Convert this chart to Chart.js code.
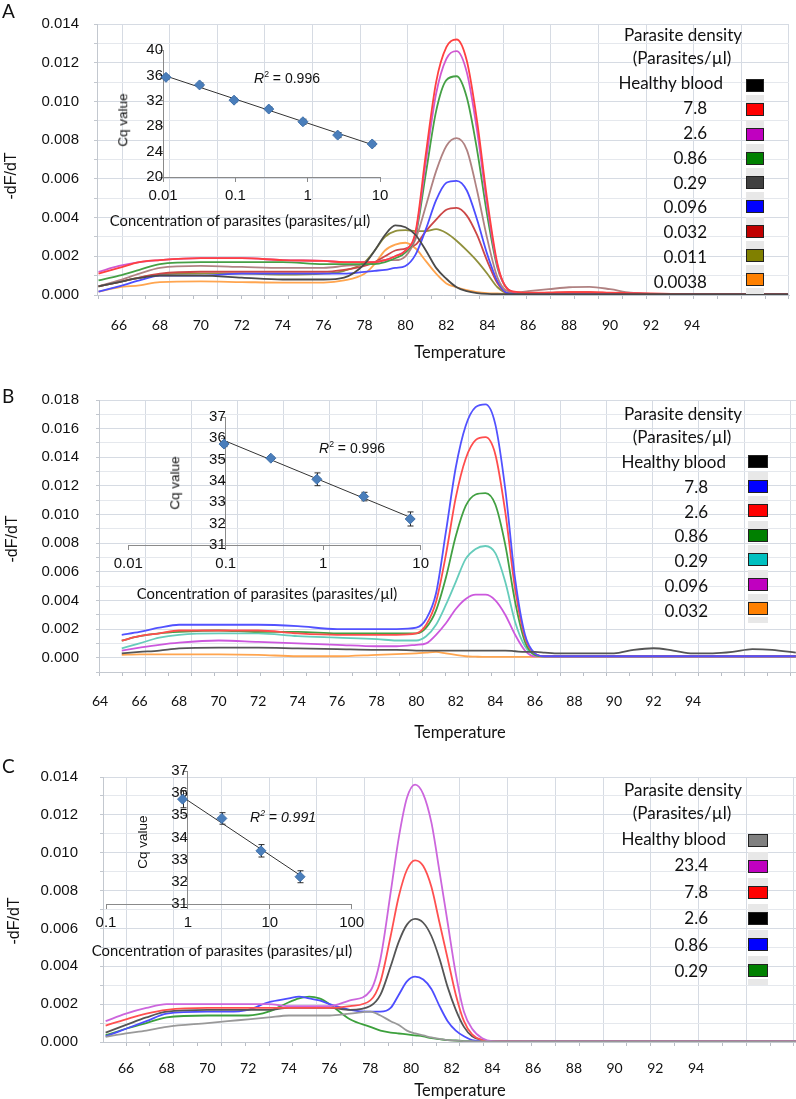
<!DOCTYPE html>
<html>
<head>
<meta charset="utf-8">
<title>Melt curves and standard curves</title>
<script src="https://cdn.jsdelivr.net/npm/chart.js"></script>
<style>
  body { margin: 0; background: #fff; }
  #fig { position: relative; width: 796px; height: 1099px; overflow: hidden; background: #fff; color: #111; }
  #fig canvas { position: absolute; }
  .t { position: absolute; white-space: nowrap; line-height: 1; }
  .t sup { font-size: 0.62em; line-height: 0; }
  .key { position: absolute; box-sizing: border-box; }
</style>
</head>
<body>
<div id="fig">
  <canvas id="meltA" width="796" height="366" style="left:0;top:0"></canvas>
  <canvas id="meltB" width="796" height="380" style="left:0;top:366px"></canvas>
  <canvas id="meltC" width="796" height="353" style="left:0;top:746px"></canvas>
  <canvas id="cqA" width="290" height="180" style="left:110px;top:30px"></canvas>
  <canvas id="cqB" width="340" height="180" style="left:95px;top:395px"></canvas>
  <canvas id="cqC" width="300" height="185" style="left:70px;top:750px"></canvas>
</div>
<script>
// ---------------- panel A : melt curves ----------------
const tempA = [65, 66, 67, 68, 70, 72, 74, 76, 77, 78,
  78.5, 79, 79.5, 80, 80.5, 81, 81.5, 82, 82.5, 83,
  83.5, 84, 84.5, 85, 85.5, 86, 87, 88, 89, 90,
  91, 92, 94, 96, 98.7];
const aHealthy = [0.00045, 0.00067, 0.00088, 0.0010, 0.0010, 0.0009, 0.0008, 0.0008, 0.0009, 0.0016,
  0.0023, 0.0031, 0.0036, 0.0035, 0.0031, 0.0023, 0.0014, 0.00084, 0.0004, 0.0002,
  0.0001, 0.00006, 0.00005, 0.00005, 0.00005, 0.00005, 0.00005, 0.00005, 0.00005, 0.00005,
  0.00005, 0.00005, 0.00005, 0.00005, 0.00005];
const a7_8 = [0.0011, 0.0014, 0.0017, 0.0018, 0.0019, 0.0019, 0.0018, 0.00176, 0.0017, 0.0017,
  0.0017, 0.0018, 0.0020, 0.0023, 0.0033, 0.0073, 0.0110, 0.0128, 0.0132, 0.0121,
  0.0090, 0.0049, 0.0016, 0.0003, 0.00015, 0.00012, 0.00012, 0.00015, 0.00015, 0.00012,
  0.0001, 0.00008, 0.00005, 0.00005, 0.00005];
const a2_6 = [0.0012, 0.0015, 0.0017, 0.0018, 0.0019, 0.0019, 0.0018, 0.00176, 0.0017, 0.0017,
  0.0017, 0.0018, 0.0020, 0.0023, 0.0032, 0.0069, 0.0104, 0.0122, 0.0126, 0.0115,
  0.0085, 0.0046, 0.0015, 0.0003, 0.00012, 0.0001, 0.0001, 0.0001, 0.0001, 0.0001,
  0.00008, 0.00006, 0.00005, 0.00005, 0.00005];
const a0_86 = [0.00075, 0.0010, 0.0013, 0.0016, 0.0017, 0.0017, 0.0017, 0.0016, 0.0016, 0.0016,
  0.0016, 0.0017, 0.0019, 0.0022, 0.0031, 0.0063, 0.0095, 0.0111, 0.0113, 0.0102,
  0.0075, 0.0041, 0.0014, 0.0003, 0.0001, 0.00008, 0.00008, 0.00008, 0.00008, 0.00008,
  0.00006, 0.00005, 0.00005, 0.00005, 0.00005];
const a0_29 = [0.00045, 0.00075, 0.0011, 0.0014, 0.0015, 0.00145, 0.0014, 0.0014, 0.0015, 0.0016,
  0.0017, 0.0018, 0.0018, 0.0020, 0.0029, 0.0046, 0.0064, 0.0077, 0.0081, 0.0075,
  0.0054, 0.0029, 0.0009, 0.0002, 0.00015, 0.0002, 0.0003, 0.0004, 0.00042, 0.0003,
  0.00012, 0.00006, 0.00005, 0.00005, 0.00005];
const a0_096 = [0.00017, 0.00045, 0.00075, 0.0010, 0.0010, 0.0011, 0.0011, 0.0011, 0.0011, 0.0012,
  0.00125, 0.0013, 0.0014, 0.0015, 0.0021, 0.0034, 0.0049, 0.0058, 0.0059, 0.0054,
  0.0039, 0.0021, 0.0007, 0.0001, 0.00008, 0.00005, 0.00005, 0.00005, 0.00005, 0.00005,
  0.00005, 0.00005, 0.00005, 0.00005, 0.00005];
const a0_032 = [0.00045, 0.00067, 0.0009, 0.0011, 0.0012, 0.0012, 0.0012, 0.0012, 0.0013, 0.0015,
  0.0017, 0.0020, 0.0023, 0.0024, 0.0026, 0.0033, 0.0039, 0.0044, 0.0045, 0.0041,
  0.0031, 0.00175, 0.0006, 0.0001, 0.0001, 0.0001, 0.00012, 0.00015, 0.00015, 0.0001,
  0.00008, 0.00005, 0.00005, 0.00005, 0.00005];
const a0_011 = [0.00045, 0.00067, 0.0009, 0.00105, 0.0011, 0.0011, 0.00105, 0.0011, 0.00125, 0.0017,
  0.0023, 0.0030, 0.0033, 0.00335, 0.0033, 0.0033, 0.0034, 0.0032, 0.0028, 0.0023,
  0.00175, 0.0011, 0.0004, 0.0001, 0.00008, 0.00005, 0.00005, 0.00005, 0.00005, 0.00005,
  0.00005, 0.00005, 0.00005, 0.00005, 0.00005];
const a0_0038 = [0.00017, 0.0004, 0.0005, 0.00067, 0.0007, 0.00067, 0.00064, 0.00064, 0.00075, 0.0011,
  0.0016, 0.0023, 0.0026, 0.0027, 0.0024, 0.00175, 0.0011, 0.0006, 0.0004, 0.00025,
  0.00015, 0.0001, 0.00008, 0.00005, 0.00005, 0.00005, 0.00005, 0.00005, 0.00005, 0.00005,
  0.00005, 0.00005, 0.00005, 0.00005, 0.00005];
const densityA = ["Healthy blood", "7.8", "2.6", "0.86", "0.29", "0.096", "0.032", "0.011", "0.0038"];
const tempTicksA = [66, 68, 70, 72, 74, 76, 78, 80, 82, 84, 86, 88, 90, 92, 94];
const dfTicksA = [0, 0.002, 0.004, 0.006, 0.008, 0.010, 0.012, 0.014];

// panel A inset : Cq vs concentration
const concA = [0.011, 0.032, 0.096, 0.29, 0.86, 2.6, 7.8];
const cqA = [35.7, 34.5, 32.1, 30.7, 28.7, 26.6, 25.2];
const cqErrA = [0.3, 0.3, 0.3, 0.3, 0.4, 0.4, 0.3];
const fitXA = [0.011, 7.8];
const fitYA = [35.9, 25.1];
const concTicksA = [0.01, 0.1, 1, 10];
const cqTicksA = [20, 24, 28, 32, 36, 40];

// ---------------- panel B ----------------
const tempB = [65.1, 66, 67, 68, 70, 72, 74, 76, 78, 79,
  80, 80.5, 81, 81.5, 82, 82.5, 83, 83.5, 84, 84.5,
  85, 85.5, 86, 86.5, 87, 88, 89, 90, 91, 92,
  93, 94, 95, 96, 97, 98, 99.2];
const bHealthy = [0.0003, 0.0004, 0.0005, 0.00065, 0.0007, 0.0007, 0.00065, 0.0006, 0.00055, 0.00055,
  0.0005, 0.0005, 0.0005, 0.0005, 0.0005, 0.0005, 0.0005, 0.0005, 0.0005, 0.0005,
  0.00045, 0.0004, 0.0004, 0.00035, 0.0003, 0.0003, 0.0003, 0.0003, 0.00055, 0.00066,
  0.0005, 0.0003, 0.0003, 0.0004, 0.0006, 0.00055, 0.00035];
const b7_8 = [0.0016, 0.0018, 0.0021, 0.0023, 0.0023, 0.0023, 0.0022, 0.0020, 0.0020, 0.0020,
  0.0021, 0.0027, 0.0045, 0.0088, 0.0133, 0.0162, 0.0175, 0.0177, 0.0163, 0.0118,
  0.0055, 0.0016, 0.0003, 0.0001, 0.0001, 0.0001, 0.0001, 0.0001, 0.0001, 0.0001,
  0.0001, 0.0001, 0.0001, 0.0001, 0.0001, 0.0001, 0.0001];
const b2_6 = [0.0012, 0.0015, 0.0017, 0.0019, 0.0019, 0.0019, 0.0017, 0.0016, 0.0016, 0.0016,
  0.0017, 0.0023, 0.0039, 0.0072, 0.0112, 0.0139, 0.0152, 0.0154, 0.0142, 0.0102,
  0.0048, 0.0014, 0.0003, 0.0001, 0.0001, 0.0001, 0.0001, 0.0001, 0.0001, 0.0001,
  0.0001, 0.0001, 0.0001, 0.0001, 0.0001, 0.0001, 0.0001];
const b0_86 = [0.0012, 0.0015, 0.0017, 0.0018, 0.0019, 0.0018, 0.0018, 0.0017, 0.0017, 0.0017,
  0.0017, 0.0021, 0.0033, 0.0056, 0.0085, 0.0106, 0.0114, 0.0115, 0.0107, 0.0079,
  0.0039, 0.0011, 0.0002, 0.0001, 0.0001, 0.0001, 0.0001, 0.0001, 0.0001, 0.0001,
  0.0001, 0.0001, 0.0001, 0.0001, 0.0001, 0.0001, 0.0001];
const b0_29 = [0.00065, 0.0010, 0.0014, 0.0016, 0.0017, 0.0017, 0.0015, 0.0014, 0.0013, 0.0012,
  0.0012, 0.0015, 0.0023, 0.0037, 0.0053, 0.0069, 0.0076, 0.0078, 0.0073, 0.0053,
  0.0025, 0.0008, 0.0002, 0.0001, 0.0001, 0.0001, 0.0001, 0.0001, 0.0001, 0.0001,
  0.0001, 0.0001, 0.0001, 0.0001, 0.0001, 0.0001, 0.0001];
const b0_096 = [0.0005, 0.0007, 0.0009, 0.00105, 0.0012, 0.0011, 0.0010, 0.0009, 0.0008, 0.0008,
  0.0009, 0.0010, 0.0016, 0.0024, 0.0034, 0.0041, 0.0044, 0.0044, 0.0040, 0.0030,
  0.0016, 0.0005, 0.0001, 0.0001, 0.00008, 0.00008, 0.00008, 0.00008, 0.00008, 0.00008,
  0.00008, 0.00008, 0.00008, 0.00008, 0.00008, 0.00008, 0.00008];
const b0_032 = [0.0002, 0.00023, 0.00023, 0.00023, 0.00023, 0.0002, 0.0001, 0.0001, 0.0002, 0.00025,
  0.0003, 0.00035, 0.0004, 0.0003, 0.0002, 0.0001, 0.00007, 0.00005, 0.00005, 0.00005,
  0.00005, 0.00005, 0.00005, 0.00005, 0.00005, 0.00005, 0.00005, 0.00005, 0.00005, 0.00005,
  0.00005, 0.00005, 0.00005, 0.00005, 0.00005, 0.00005, 0.00005];
const densityB = ["Healthy blood", "7.8", "2.6", "0.86", "0.29", "0.096", "0.032"];
const tempTicksB = [64, 66, 68, 70, 72, 74, 76, 78, 80, 82, 84, 86, 88, 90, 92, 94];
const dfTicksB = [0, 0.002, 0.004, 0.006, 0.008, 0.010, 0.012, 0.014, 0.016, 0.018];

const concB = [0.096, 0.29, 0.86, 2.6, 7.8];
const cqB = [35.73, 35.07, 34.08, 33.27, 32.22];
const cqErrB = [0.12, 0.06, 0.3, 0.2, 0.33];
const fitXB = [0.096, 7.8];
const fitYB = [35.9, 32.3];
const concTicksB = [0.01, 0.1, 1, 10];
const cqTicksB = [31, 32, 33, 34, 35, 36, 37];

// ---------------- panel C ----------------
const tempC = [65, 66, 67, 68, 70, 71, 72, 73, 74, 74.5,
  75, 75.5, 76, 77, 78, 78.5, 79, 79.4, 79.8, 80.2,
  80.6, 81, 81.4, 81.8, 82.2, 82.6, 83, 83.5, 84, 86,
  90, 95, 98.9];
const cHealthy = [0.00027, 0.00045, 0.0006, 0.0008, 0.0010, 0.0011, 0.0012, 0.0013, 0.0014, 0.0014,
  0.0014, 0.0014, 0.0014, 0.0015, 0.0016, 0.0014, 0.0011, 0.0009, 0.0006, 0.00045,
  0.00035, 0.00024, 0.00016, 0.0001, 0.00007, 0.00005, 0.00004, 0.00003, 0.00003, 0.00003,
  0.00003, 0.00003, 0.00003];
const c23_4 = [0.0011, 0.0015, 0.0018, 0.0020, 0.0020, 0.0020, 0.0020, 0.0020, 0.0019, 0.0019,
  0.0019, 0.0019, 0.0019, 0.0022, 0.0027, 0.0044, 0.0079, 0.0108, 0.0129, 0.0136,
  0.0131, 0.0116, 0.0090, 0.0063, 0.0036, 0.0016, 0.0007, 0.0002, 0.00005, 0.00003,
  0.00003, 0.00003, 0.00003];
const c7_8 = [0.00087, 0.0012, 0.0015, 0.0017, 0.0018, 0.0018, 0.0018, 0.0018, 0.0018, 0.0018,
  0.0018, 0.0018, 0.0018, 0.0019, 0.0022, 0.0032, 0.0056, 0.0077, 0.0091, 0.0096,
  0.0093, 0.0082, 0.0063, 0.0044, 0.0025, 0.0011, 0.0004, 0.0001, 0.00004, 0.00003,
  0.00003, 0.00003, 0.00003];
const c2_6 = [0.0005, 0.0009, 0.0013, 0.0016, 0.0017, 0.0017, 0.0017, 0.0017, 0.0018, 0.0018,
  0.0018, 0.0018, 0.0018, 0.0017, 0.0019, 0.0025, 0.0040, 0.0053, 0.0062, 0.0065,
  0.0063, 0.0056, 0.0044, 0.0029, 0.0017, 0.0008, 0.0003, 0.0001, 0.00004, 0.00003,
  0.00003, 0.00003, 0.00003];
const c0_86 = [0.0003, 0.0007, 0.0011, 0.0015, 0.0016, 0.0016, 0.0017, 0.0021, 0.0023, 0.0024,
  0.0023, 0.0022, 0.0020, 0.0017, 0.0016, 0.0016, 0.0018, 0.0025, 0.0032, 0.00345,
  0.0033, 0.0028, 0.0019, 0.0011, 0.0006, 0.0003, 0.0001, 0.00005, 0.00003, 0.00003,
  0.00003, 0.00003, 0.00003];
const c0_29 = [0.00036, 0.0007, 0.0010, 0.0013, 0.0014, 0.0014, 0.0014, 0.0016, 0.0021, 0.0023,
  0.0024, 0.0023, 0.0020, 0.0012, 0.0008, 0.0006, 0.0005, 0.00045, 0.0004, 0.00035,
  0.0003, 0.0002, 0.00015, 0.0001, 0.00008, 0.00005, 0.00004, 0.00003, 0.00003, 0.00003,
  0.00003, 0.00003, 0.00003];
const densityC = ["Healthy blood", "23.4", "7.8", "2.6", "0.86", "0.29"];
const tempTicksC = [66, 68, 70, 72, 74, 76, 78, 80, 82, 84, 86, 88, 90, 92, 94];
const dfTicksC = [0, 0.002, 0.004, 0.006, 0.008, 0.010, 0.012, 0.014];

const concC = [0.86, 2.6, 7.8, 23.4];
const cqC = [35.73, 34.86, 33.4, 32.23];
const cqErrC = [0.39, 0.26, 0.28, 0.27];
const fitXC = [0.86, 23.4];
const fitYC = [35.83, 32.3];
const concTicksC = [0.1, 1, 10, 100];
const cqTicksC = [31, 32, 33, 34, 35, 36, 37];

// ---------------- colours ----------------
const lineColorsA = ["#4a4a4a", "#ff4040", "#d058d0", "#45a045", "#b08282", "#4d4dff", "#cc4747", "#90903c", "#ffa54f"];
const keyColorsA = ["#000000", "#ff0000", "#c000c0", "#008000", "#404040", "#0000ff", "#c00000", "#808000", "#ff8000"];
const lineColorsB = ["#555555", "#5252ff", "#ff4d4d", "#42a042", "#66ccbb", "#cc58dd", "#ffa54f"];
const keyColorsB = ["#000000", "#0000ff", "#ff0000", "#008000", "#00c0c0", "#c000c0", "#ff8000"];
const lineColorsC = ["#999999", "#cc66dd", "#ff5050", "#555555", "#4d4dff", "#3ca03c"];
const keyColorsC = ["#808080", "#c000c0", "#ff0000", "#000000", "#0000ff", "#008000"];

const GRID = "#d6dbe3";
const GRID_MINOR = "#e5e8ed";
const AXIS = "#c3c8cf";
const INSET_AXIS = "#8a8a8a";

// ---------------- charts ----------------
function meltChart(id, p) {
  return new Chart(document.getElementById(id), {
    type: "line",
    data: {
      datasets: p.curves.map((vals, i) => ({
        data: p.temps.map((t, j) => ({ x: t, y: vals[j] })),
        borderColor: p.colors[i],
        borderWidth: 1.8,
        pointRadius: 0,
        cubicInterpolationMode: "monotone",
        xAxisID: "x",
        yAxisID: "y",
      })),
    },
    options: {
      responsive: false,
      animation: false,
      events: [],
      layout: { padding: { top: p.padTop, right: p.padRight, bottom: 0, left: 0 } },
      plugins: { legend: { display: false }, tooltip: { enabled: false } },
      scales: {
        x: {
          type: "linear",
          axis: "x",
          position: "bottom",
          weight: 1,
          min: p.xMin,
          max: p.xMax,
          afterBuildTicks: (ax) => { ax.ticks = p.xTicks.map((v) => ({ value: v })); },
          afterFit: (ax) => { ax.height = p.xHeight; },
          ticks: {
            autoSkip: false,
            maxRotation: 0,
            padding: p.xPad,
            color: "#111",
            font: { family: "Lato", size: 14 },
            callback: (v) => String(v),
          },
          grid: { display: false },
          border: { display: false },
        },
        // vertical gridlines of the original plot do not sit on the temperature labels
        gx: {
          type: "linear",
          axis: "x",
          position: "bottom",
          weight: 0,
          min: 0,
          max: p.plotW,
          afterBuildTicks: (ax) => {
            const half = p.gridStep / 2;
            const t = [];
            for (let k = -Math.floor(p.gridStart / half); p.gridStart + k * half <= p.plotW + 0.5; k++) {
              t.push({ value: p.gridStart + k * half, minor: k % 2 !== 0 });
            }
            ax.ticks = t;
          },
          afterFit: (ax) => { ax.height = 4; },
          ticks: { display: false },
          grid: {
            color: (c) => (c.tick && c.tick.minor ? "rgba(0,0,0,0)" : GRID),
            tickColor: "#b9bec6",
            tickLength: 4,
          },
          border: { color: AXIS },
        },
        y: {
          min: p.yMin,
          max: p.yMax,
          afterBuildTicks: (ax) => {
            const t = [];
            p.yTicks.forEach((v, i) => {
              t.push({ value: v });
              if (i < p.yTicks.length - 1) t.push({ value: (v + p.yTicks[i + 1]) / 2, minor: true });
            });
            if (p.yMin < p.yTicks[0]) t.unshift({ value: p.yMin, minor: true });
            ax.ticks = t;
          },
          afterFit: (ax) => { ax.width = p.yWidth; },
          ticks: {
            autoSkip: false,
            padding: p.yPad,
            color: "#111",
            font: { family: "Liberation Sans", size: 15 },
            callback: (v, i, t) => (t[i].minor ? "" : v.toFixed(3)),
          },
          grid: {
            color: (c) => (c.tick && c.tick.minor ? GRID_MINOR : GRID),
            tickColor: AXIS,
            tickLength: 3,
          },
          border: { color: AXIS },
        },
      },
    },
  });
}

const errorBars = {
  id: "errorBars",
  beforeDatasetsDraw(chart, args, o) {
    const { ctx, scales: { x, y } } = chart;
    ctx.save();
    ctx.strokeStyle = "#2b2b2b";
    ctx.lineWidth = 1;
    o.x.forEach((c, i) => {
      const px = Math.round(x.getPixelForValue(c)) + 0.5;
      const hi = y.getPixelForValue(o.y[i] + o.err[i]);
      const lo = y.getPixelForValue(o.y[i] - o.err[i]);
      ctx.beginPath();
      ctx.moveTo(px, hi); ctx.lineTo(px, lo);
      ctx.moveTo(px - 3, hi); ctx.lineTo(px + 3, hi);
      ctx.moveTo(px - 3, lo); ctx.lineTo(px + 3, lo);
      ctx.stroke();
    });
    ctx.restore();
  },
};

function cqChart(id, p) {
  const tickFont = { family: "Liberation Sans", size: 15 };
  return new Chart(document.getElementById(id), {
    type: "scatter",
    data: {
      datasets: [
        {
          data: p.conc.map((c, i) => ({ x: c, y: p.cq[i] })),
          pointStyle: "rectRot",
          pointRadius: 5,
          backgroundColor: "#4a7ebb",
          borderColor: "#3f70aa",
          borderWidth: 1,
          clip: false,
        },
        {
          data: p.fitX.map((c, i) => ({ x: c, y: p.fitY[i] })),
          showLine: true,
          borderColor: "#333",
          borderWidth: 1,
          pointRadius: 0,
          clip: false,
        },
      ],
    },
    plugins: [errorBars],
    options: {
      responsive: false,
      animation: false,
      events: [],
      layout: { padding: p.pad },
      plugins: {
        legend: { display: false },
        tooltip: { enabled: false },
        errorBars: { x: p.conc, y: p.cq, err: p.err },
      },
      scales: {
        x: {
          type: "logarithmic",
          min: p.xMin,
          max: p.xMax,
          afterBuildTicks: (ax) => { ax.ticks = p.xTicks.map((v) => ({ value: v })); },
          afterFit: (ax) => { ax.height = p.xHeight; },
          ticks: { autoSkip: false, maxRotation: 0, padding: 5, color: "#111", font: tickFont, callback: (v) => String(v) },
          grid: { drawOnChartArea: false, tickLength: 5, color: INSET_AXIS },
          border: { color: INSET_AXIS },
        },
        y: {
          min: p.yMin,
          max: p.yMax,
          position: { x: p.yAt },
          afterBuildTicks: (ax) => { ax.ticks = p.yTicks.map((v) => ({ value: v })); },
          ticks: { autoSkip: false, padding: 5, color: "#111", font: tickFont },
          grid: { drawOnChartArea: false, tickLength: 4, color: INSET_AXIS },
          border: { color: INSET_AXIS },
        },
      },
    },
  });
}

meltChart("meltA", {
  temps: tempA,
  curves: [aHealthy, a7_8, a2_6, a0_86, a0_29, a0_096, a0_032, a0_011, a0_0038],
  colors: lineColorsA,
  xMin: 64.925, xMax: 98.747, xTicks: tempTicksA,
  yMin: 0, yMax: 0.014, yTicks: dfTicksA,
  padTop: 16, padRight: 7, yWidth: 97, yPad: 15, xHeight: 67, xPad: 10,
  plotW: 692, gridStart: 25, gridStep: 47.64,
});
meltChart("meltB", {
  temps: tempB,
  curves: [bHealthy, b7_8, b2_6, b0_86, b0_29, b0_096, b0_032],
  colors: lineColorsB,
  xMin: 63.949, xMax: 99.21, xTicks: tempTicksB,
  yMin: -0.001, yMax: 0.018, yTicks: dfTicksB,
  padTop: 34, padRight: 0, yWidth: 99, yPad: 17, xHeight: 70, xPad: 9,
  plotW: 697, gridStart: 0.6, gridStep: 46.07,
});
meltChart("meltC", {
  temps: tempC,
  curves: [cHealthy, c23_4, c7_8, c2_6, c0_86, c0_29],
  colors: lineColorsC,
  xMin: 64.87, xMax: 98.91, xTicks: tempTicksC,
  yMin: 0, yMax: 0.014, yTicks: dfTicksC,
  padTop: 24, padRight: 0, yWidth: 103, yPad: 22, xHeight: 53, xPad: 6,
  plotW: 693, gridStart: 23, gridStep: 47.71,
});

cqChart("cqA", {
  conc: concA, cq: cqA, err: cqErrA, fitX: fitXA, fitY: fitYA,
  xMin: 0.01, xMax: 10, xTicks: concTicksA, yMin: 20, yMax: 40, yTicks: cqTicksA, yAt: 0.01,
  pad: { left: 53, right: 20, top: 20, bottom: 0 }, xHeight: 33,
});
cqChart("cqB", {
  conc: concB, cq: cqB, err: cqErrB, fitX: fitXB, fitY: fitYB,
  xMin: 0.01, xMax: 10, xTicks: concTicksB, yMin: 31, yMax: 37, yTicks: cqTicksB, yAt: 0.1,
  pad: { left: 33.3, right: 14.3, top: 22, bottom: 0 }, xHeight: 30,
});
cqChart("cqC", {
  conc: concC, cq: cqC, err: cqErrC, fitX: fitXC, fitY: fitYC,
  xMin: 0.1, xMax: 100, xTicks: concTicksC, yMin: 31, yMax: 37, yTicks: cqTicksC, yAt: 1,
  pad: { left: 36, right: 18.3, top: 21, bottom: 0 }, xHeight: 31,
});

// ---------------- text and keys ----------------
const fig = document.getElementById("fig");
const LEG = "17px/1 Lato";
const TITLE = "16.5px/1 Lato";
const CONC = "14.8px/1 Lato";
const ARIAL = (s) => s + "px/1 'Liberation Sans'";

function label(html, x, y, font, align, rotate) {
  const el = document.createElement("div");
  el.className = "t";
  el.innerHTML = html;
  el.style.font = font;
  el.style.left = x + "px";
  el.style.top = y + "px";
  const dx = align === "right" ? "-100%" : align === "left" ? "0" : "-50%";
  el.style.transform = "translate(" + dx + ", -50%)" + (rotate ? " rotate(-90deg)" : "");
  fig.appendChild(el);
}

function swatch(x, y, w, h, color, border) {
  const el = document.createElement("div");
  el.className = "key";
  el.style.left = x + "px";
  el.style.top = y + "px";
  el.style.width = w + "px";
  el.style.height = h + "px";
  el.style.background = color;
  if (border) el.style.border = "1px solid #222";
  fig.appendChild(el);
}

function key(o) {
  label("Parasite density", o.cx, o.titleY, LEG, "center");
  label("(Parasites/µl)", o.cx - 1, o.titleY + 22.5, LEG, "center");
  o.names.forEach((n, i) => {
    label(n, i === 0 ? o.nameRight : o.valueRight, o.textY + i * o.textStep, LEG, "right");
    const by = o.boxY + i * o.boxStep - 6.5;
    if (i > 0) swatch(o.boxX, by - 8, o.boxW, 8, "#e8e8e8", false);
    swatch(o.boxX, by, o.boxW, 13, o.colors[i], true);
    if (i === o.names.length - 1) swatch(o.boxX, by + 15, o.boxW, 6, "#e8e8e8", false);
  });
}

// panel A
label("A", 2, 10, "19px/1 Lato", "left");
label("-dF/dT", 11, 176, ARIAL(16), "center", true);
label("Temperature", 460, 352, TITLE, "center");
label("Cq value", 123, 120, ARIAL(13.5), "center", true);
label("Concentration of parasites (parasites/µl)", 240, 220, CONC, "center");
label("<i>R</i><sup>2</sup> = 0.996", 287, 78, ARIAL(14), "center");
key({ cx: 683, titleY: 34, names: densityA, colors: keyColorsA, nameRight: 723, valueRight: 707,
  textY: 82, textStep: 24.875, boxX: 746, boxW: 18, boxY: 85.5, boxStep: 24.25 });

// panel B
label("B", 2, 395, "19px/1 Lato", "left");
label("-dF/dT", 11.5, 539, ARIAL(16), "center", true);
label("Temperature", 460, 732, TITLE, "center");
label("Cq value", 175, 483, ARIAL(13.5), "center", true);
label("Concentration of parasites (parasites/µl)", 267, 593, CONC, "center");
label("<i>R</i><sup>2</sup> = 0.996", 352, 448, ARIAL(14), "center");
key({ cx: 683, titleY: 413, names: densityB, colors: keyColorsB, nameRight: 726, valueRight: 708,
  textY: 461, textStep: 24.83, boxX: 748, boxW: 19.5, boxY: 461.5, boxStep: 24.5 });

// panel C
label("C", 2, 765, "19px/1 Lato", "left");
label("-dF/dT", 14, 921, ARIAL(16), "center", true);
label("Temperature", 460, 1090, TITLE, "center");
label("Cq value", 143, 842, ARIAL(13.5), "center", true);
label("Concentration of parasites (parasites/µl)", 222, 950, CONC, "center");
label("<i>R<sup>2</sup> = 0.991</i>", 283, 817, ARIAL(14), "center");
key({ cx: 683, titleY: 789, names: densityC, colors: keyColorsC, nameRight: 726, valueRight: 708,
  textY: 838, textStep: 26.4, boxX: 748, boxW: 19.5, boxY: 840.5, boxStep: 25.9 });
</script>
</body>
</html>
